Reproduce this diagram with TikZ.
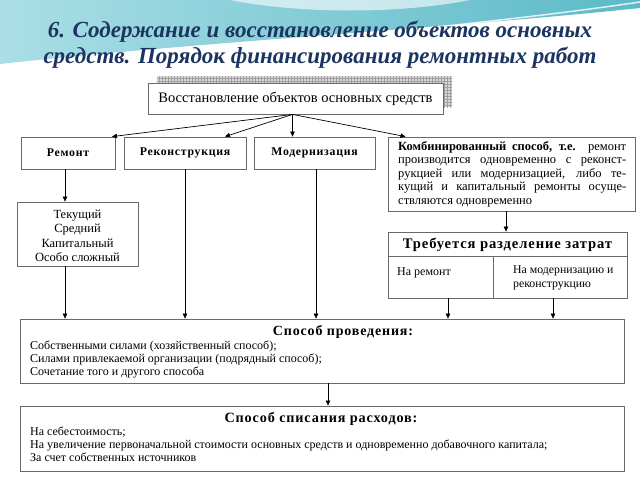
\documentclass[tikz,border=0pt]{standalone}
\usepackage{fontspec}
\setmainfont{Liberation Serif}
\newfontfamily\spc[LetterSpace=6]{Liberation Serif}
\usetikzlibrary{arrows.meta,calc,patterns}
\definecolor{titleblue}{RGB}{28,52,96}
\definecolor{bordergray}{RGB}{105,105,105}
\definecolor{skyA}{RGB}{170,222,230}
\definecolor{skyB}{RGB}{92,186,200}
\begin{document}
\begin{tikzpicture}[x=1pt,y=-1pt,
  box/.style={draw=bordergray,line width=0.8pt,rectangle,inner sep=0pt,fill=white},
  conn/.style={draw=black,line width=0.7pt,-{Triangle[length=5pt,width=4.5pt]}},
  plain/.style={draw=bordergray,line width=0.8pt},
  head/.style={font=\spc\bfseries\fontsize{11.8}{13}\selectfont},
  bighead/.style={font=\spc\bfseries\fontsize{14.2}{16}\selectfont},
  body/.style={font=\fontsize{12}{12.8}\selectfont, align=left, inner sep=0pt},
  ttl/.style={font=\bfseries\itshape\fontsize{23}{26}\selectfont, text=titleblue},
]
\useasboundingbox (0,0) rectangle (640,480);
\fill[white] (0,0) rectangle (640,480);
% header background
\shade[left color=skyA, right color=skyB] (0,0) -- (640,0) -- (640,8) .. controls (450,28) and (200,42) .. (0,64) -- cycle;
\fill[white, opacity=0.6] (230,0) .. controls (300,14) and (400,14) .. (470,0) -- cycle;
\draw[white, line width=1.5pt, opacity=0.8] (0,70) .. controls (200,48) and (450,30) .. (640,2);
\draw[white, line width=0.8pt, opacity=0.7] (300,44) .. controls (450,30) and (560,14) .. (640,12);

% title
\node[ttl] (t1) at (320,32) {6. Содержание и восстановление объектов основных};
\node[ttl] (t2) at (320,58) {средств. Порядок финансирования ремонтных работ};

% shadow of top box
\fill[gray!30] (157,76) rectangle (452,107);
\fill[pattern=grid, pattern color=gray!75] (157,76) rectangle (452,107);

% boxes
\node[box, minimum width=295, minimum height=31, font=\fontsize{14.5}{16}\selectfont] (top) at (295.5,98.5) {Восстановление объектов основных средств};
\node[box, minimum width=94, minimum height=32, head] (rem) at (68,153) {Ремонт};
\node[box, minimum width=122, minimum height=32, head] (rek) at (185,153) {Реконструкция};
\node[box, minimum width=121, minimum height=32, head] (mod) at (314.5,153) {Модернизация};
\node[box, minimum width=247, minimum height=74] (kom) at (511.5,174) {};
\node[body, anchor=north west, font=\fontsize{12.5}{13.5}\selectfont] (komtxt) at (398,141) {%
\makebox[228pt][s]{\textbf{Комбинированный способ, т.е.} ремонт}\\
\makebox[228pt][s]{производится одновременно с реконст-}\\
\makebox[228pt][s]{рукцией или модернизацией, либо те-}\\
\makebox[228pt][s]{кущий и капитальный ремонты осуще-}\\
ствляются одновременно};
\node[box, minimum width=121, minimum height=64] (tek) at (77.5,234) {};
\node[align=center, inner sep=0pt, font=\fontsize{12.5}{14.5}\selectfont] (tektxt) at (77.5,236) {Текущий\\Средний\\Капитальный\\Особо сложный};

\node[box, minimum width=239, minimum height=66] (treb) at (507.5,265) {};
\draw[plain] ($(treb.north west)+(0,25)$) -- ($(treb.north east)+(0,25)$);
\draw[plain] ($(treb.north west)+(106,25)$) -- ($(treb.south west)+(106,0)$);
\node[bighead, font=\spc\bfseries\fontsize{14.6}{16}\selectfont] (trebh) at (507.5,245) {Требуется разделение затрат};
\node[body, anchor=west] (trebl) at (397,273) {На ремонт};
\node[body, anchor=north west, font=\fontsize{11.8}{14}\selectfont] (trebr) at (513,266) {На модернизацию и\\реконструкцию};

\node[box, minimum width=604, minimum height=64] (sp) at (322,351) {};
\node[bighead, font=\spc\bfseries\fontsize{14}{16}\selectfont] (sph) at (343,332) {Способ проведения:};
\node[body, anchor=north west] (spt) at (30,341) {Собственными силами (хозяйственный способ);\\Силами привлекаемой организации (подрядный способ);\\Сочетание того и другого способа};

\node[box, minimum width=604, minimum height=65] (ss) at (322,438.5) {};
\node[bighead] (ssh) at (321,419) {Способ списания расходов:};
\node[body, anchor=north west] (sst) at (30,427) {На себестоимость;\\На увеличение первоначальной стоимости основных средств и одновременно добавочного капитала;\\За счет собственных источников};

% connectors
\coordinate (hub) at ($(top.south)+(-3,0)$);
\draw[conn] (hub) -- ($(rem.north)+(44,0)$);
\draw[conn] (hub) -- ($(rek.north)+(40,0)$);
\draw[conn] (hub) -- ($(mod.north)+(-22,0)$);
\draw[conn] (hub) -- ($(kom.north)+(-106,0)$);

\coordinate (remd) at ($(rem.south)+(-3,0)$);
\draw[conn] (remd) -- (remd |- tek.north);
\coordinate (tekd) at (remd |- tek.south);
\draw[conn] (tekd) -- (tekd |- sp.north);
\draw[conn] (rek.south) -- (rek.south |- sp.north);
\coordinate (modd) at ($(mod.south)+(1.5,0)$);
\draw[conn] (modd) -- (modd |- sp.north);
\coordinate (komd) at (kom.south -| 506,0);
\draw[conn] (komd) -- (komd |- treb.north);
\coordinate (trl) at ($(treb.south)+(-59.5,0)$);
\draw[conn] (trl) -- (trl |- sp.north);
\coordinate (trr) at ($(treb.south)+(45.5,0)$);
\draw[conn] (trr) -- (trr |- sp.north);
\coordinate (spd) at ($(sp.south)+(6,0)$);
\draw[conn] (spd) -- (spd |- ss.north);
\end{tikzpicture}
\end{document}
